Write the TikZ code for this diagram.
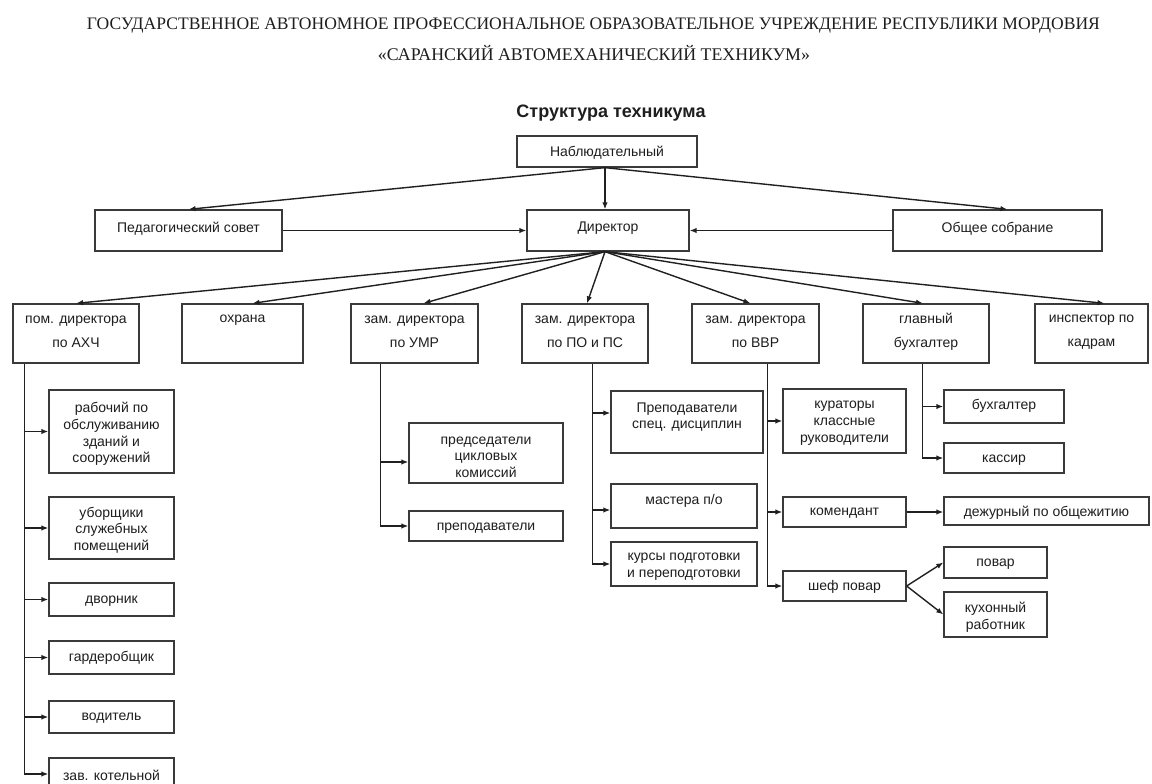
\documentclass[tikz,border=0pt]{standalone}
\usepackage{fontspec}
\usepackage{graphicx}
\setmainfont{Liberation Serif}
\newfontfamily\arialf{Liberation Sans}
\usetikzlibrary{arrows.meta}

\definecolor{linec}{HTML}{202020}
\definecolor{boxc}{HTML}{3A3A3A}
\definecolor{textc}{HTML}{1E1E1E}

% box with its caption: name, x1, y1, x2, y2, caption centre y, caption
\newcommand{\obox}[7]{%
  \node[box, minimum width={#4-#2}, minimum height={#5-#3}] (#1)
    at ({(#2+#4)/2},{(#3+#5)/2}) {};
  \node[txt] (#1-t) at ({(#2+#4)/2},#6) {#7};}
% same, with the wider line spacing of the deputies' row
\newcommand{\rbox}[7]{%
  \node[box, minimum width={#4-#2}, minimum height={#5-#3}] (#1)
    at ({(#2+#4)/2},{(#3+#5)/2}) {};
  \node[txt, font=\arialf\fontsize{14}{23.5}\selectfont] (#1-t) at ({(#2+#4)/2},#6) {#7};}

\begin{document}
\begin{tikzpicture}[x=1pt, y=-1pt,
  box/.style={draw=boxc, line width=1.3pt, inner sep=0pt},
  txt/.style={align=center, inner sep=0pt, text=textc, yshift=-2pt,
              font=\arialf\fontsize{14}{16.7}\selectfont},
  ln/.style={draw=linec, line width=1.4pt},
  arr/.style={ln, -{Latex[length=7pt, width=5.5pt]}},
  head/.style={inner sep=0pt, anchor=base, text=textc}]

\useasboundingbox (0,0) rectangle (1152,784);
\clip (0,0) rectangle (1152,784);
\fill[white] (0,0) rectangle (1152,784);

% heading
\node[head] (h1) at (593.5,30) {\resizebox{1013pt}{!}{\fontsize{17}{20}\selectfont
  ГОСУДАРСТВЕННОЕ АВТОНОМНОЕ ПРОФЕССИОНАЛЬНОЕ ОБРАЗОВАТЕЛЬНОЕ УЧРЕЖДЕНИЕ РЕСПУБЛИКИ МОРДОВИЯ}};
\node[head] (h2) at (594,61) {\resizebox{432pt}{!}{\fontsize{17}{20}\selectfont
  «САРАНСКИЙ АВТОМЕХАНИЧЕСКИЙ ТЕХНИКУМ»}};
\node[inner sep=0pt, text=textc, font=\arialf\bfseries\fontsize{18}{20}\selectfont]
  (title) at (611,113) {Структура техникума};

% governing level
\obox{nab}{517}{136}{697}{167}{151}{Наблюдательный}
\obox{ped}{95}{210}{282}{251}{227}{Педагогический совет}
\obox{dir}{527}{210}{689}{251}{226}{Директор}
\obox{obsh}{893}{210}{1102}{251}{227}{Общее собрание}

% deputies
\rbox{ahch}{13}{304}{139}{363}{330}{пом. директора\\по АХЧ}
\rbox{ohr}{182}{304}{303}{363}{318}{охрана}
\rbox{umr}{351}{304}{478}{363}{330}{зам. директора\\по УМР}
\rbox{popc}{522}{304}{648}{363}{330}{зам. директора\\по ПО и ПС}
\rbox{vvr}{692}{304}{819}{363}{330}{зам. директора\\по ВВР}
\rbox{glb}{863}{304}{989}{363}{330}{главный\\бухгалтер}
\rbox{insp}{1035}{304}{1148}{363}{330}{инспектор по\\кадрам}

% maintenance staff
\obox{rab}{49}{390}{174}{473}{432}{рабочий по\\обслуживанию\\зданий и\\сооружений}
\obox{ubor}{49}{497}{174}{559}{528}{уборщики\\служебных\\помещений}
\obox{dvor}{49}{583}{174}{616}{599}{дворник}
\obox{gard}{49}{641}{174}{674}{656}{гардеробщик}
\obox{vod}{49}{701}{174}{733}{716}{водитель}
\obox{zav}{49}{758}{174}{800}{773}{зав. котельной}

% methodical work
\obox{pred}{409}{423}{563}{483}{455}{председатели\\цикловых\\комиссий}
\obox{prep}{409}{511}{563}{541}{526}{преподаватели}

% vocational training
\obox{prsp}{611}{391}{763}{453}{415}{Преподаватели\\спец. дисциплин}
\obox{mast}{611}{484}{757}{528}{499}{мастера п/о}
\obox{kurs}{611}{542}{757}{586}{565}{курсы подготовки\\и переподготовки}

% educational work
\obox{kur}{783}{389}{906}{453}{421}{кураторы\\классные\\руководители}
\obox{kom}{783}{497}{906}{527}{511}{комендант}
\obox{chef}{783}{571}{906}{601}{585}{шеф повар}
\obox{dezh}{944}{497}{1149}{525}{511}{дежурный по общежитию}
\obox{povar}{944}{547}{1047}{578}{562}{повар}
\obox{kuh}{944}{592}{1047}{637}{615}{кухонный\\работник}

% accounting
\obox{buh}{944}{390}{1064}{423}{404}{бухгалтер}
\obox{kas}{944}{443}{1064}{473}{458}{кассир}

% governing links
\coordinate (nsrc) at ([xshift=-2pt]nab.south);
\draw[arr] (nsrc) -- (nsrc |- dir.north);
\draw[arr] (nsrc) -- (ped.north);
\draw[arr] (nsrc) -- ([xshift=10pt]obsh.north);
\draw[arr] (ped.east) -- (dir.west);
\draw[arr] (obsh.west) -- (dir.east);

% director to deputies
\coordinate (dsrc) at ([xshift=-3pt]dir.south);
\draw[arr] (dsrc) -- (ahch.north);
\draw[arr] (dsrc) -- ([xshift=10pt]ohr.north);
\draw[arr] (dsrc) -- ([xshift=9pt]umr.north);
\draw[arr] (dsrc) -- ([xshift=2pt]popc.north);
\draw[arr] (dsrc) -- ([xshift=-5pt]vvr.north);
\draw[arr] (dsrc) -- ([xshift=-3pt]glb.north);
\draw[arr] (dsrc) -- ([xshift=13pt]insp.north);

% entry points that sit off the box middles
\coordinate (zavin) at ([yshift=5pt]zav.west);
\coordinate (predin) at ([yshift=-9pt]pred.west);
\coordinate (prspin) at ([yshift=9pt]prsp.west);
\coordinate (mastin) at ([yshift=-4pt]mast.west);

% branch: maintenance
\coordinate (bA) at ([xshift=12pt]ahch.south west);
\draw[ln] (bA) -- (bA |- zavin);
\foreach \n in {rab, ubor, dvor, gard, vod}
  \draw[arr] (bA |- \n.west) -- (\n.west);
\draw[arr] (bA |- zavin) -- (zavin);

% branch: methodical work
\coordinate (bU) at ([xshift=30pt]umr.south west);
\draw[ln] (bU) -- (bU |- prep.west);
\draw[arr] (bU |- predin) -- (predin);
\draw[arr] (bU |- prep.west) -- (prep.west);

% branch: vocational training
\coordinate (bP) at ([xshift=71pt]popc.south west);
\draw[ln] (bP) -- (bP |- kurs.west);
\draw[arr] (bP |- prspin) -- (prspin);
\draw[arr] (bP |- mastin) -- (mastin);
\draw[arr] (bP |- kurs.west) -- (kurs.west);

% branch: educational work
\coordinate (bV) at ([xshift=76pt]vvr.south west);
\draw[ln] (bV) -- (bV |- chef.west);
\foreach \n in {kur, kom, chef}
  \draw[arr] (bV |- \n.west) -- (\n.west);
\draw[arr] (kom.east) -- (kom.east -| dezh.west);
\draw[arr] (chef.east) -- (povar.west);
\draw[arr] (chef.east) -- (kuh.west);

% branch: accounting
\coordinate (bG) at ([xshift=60pt]glb.south west);
\draw[ln] (bG) -- (bG |- kas.west);
\foreach \n in {buh, kas}
  \draw[arr] (bG |- \n.west) -- (\n.west);

\end{tikzpicture}
\end{document}
